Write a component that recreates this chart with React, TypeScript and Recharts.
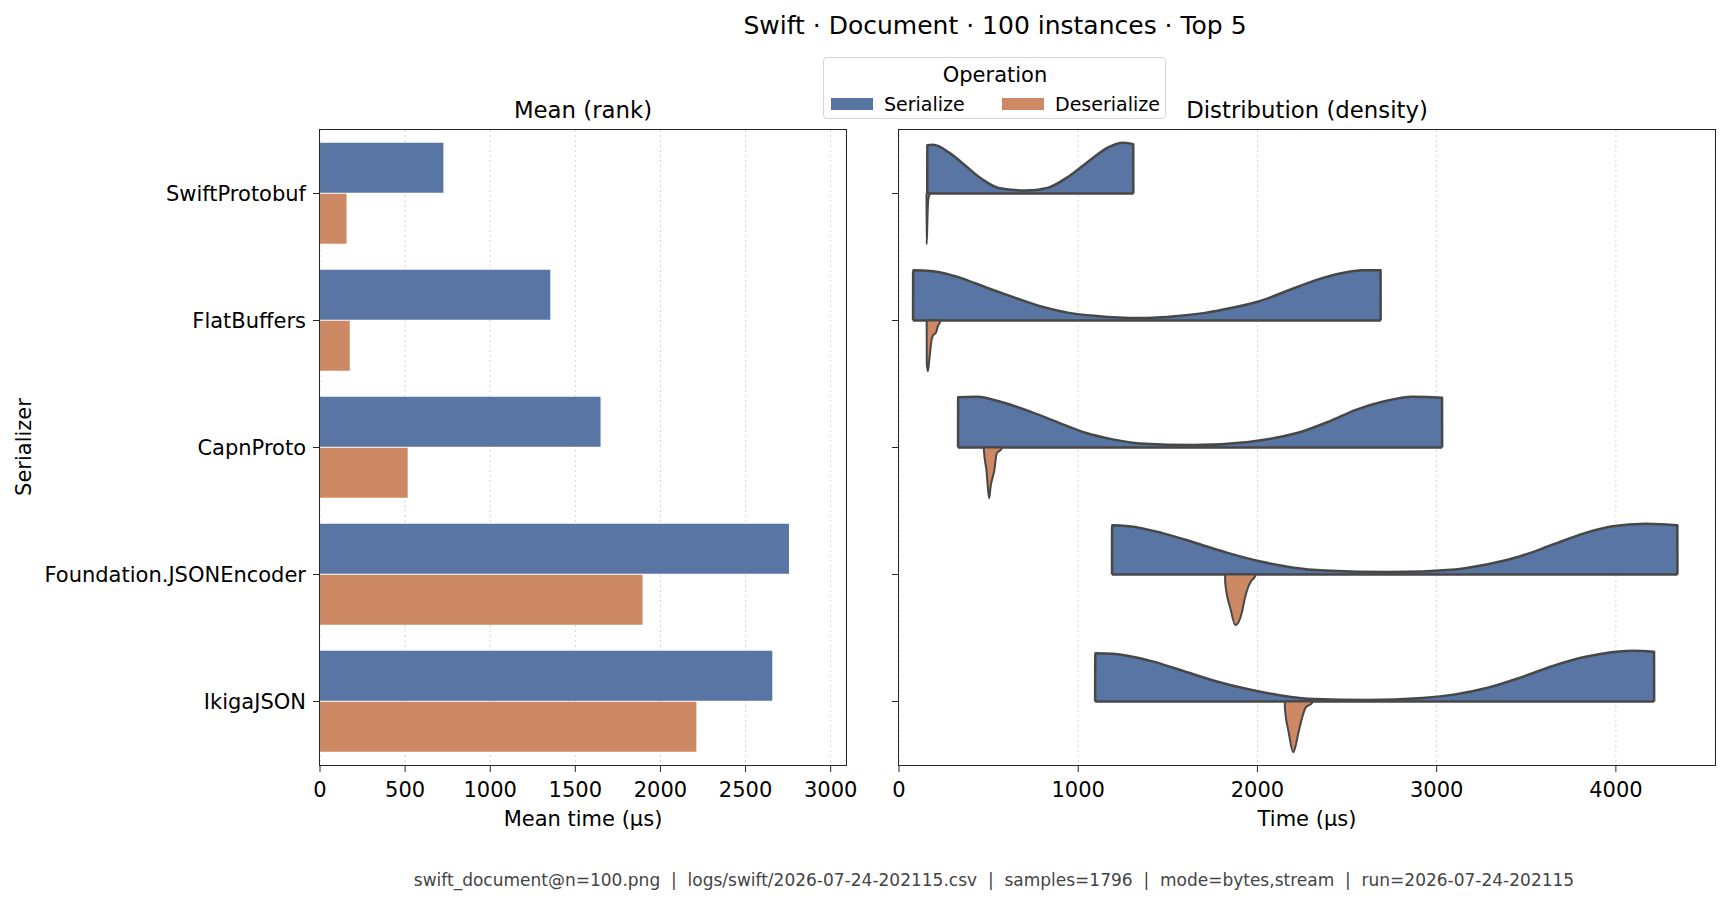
import React from 'react';
import { BarChart, Bar, XAxis, YAxis, CartesianGrid, ComposedChart, Area } from 'recharts';

const SERIALIZERS = ['SwiftProtobuf', 'FlatBuffers', 'CapnProto', 'Foundation.JSONEncoder', 'IkigaJSON'];
const MEAN_SERIALIZE = [725, 1353, 1648, 2755, 2657];
const MEAN_DESERIALIZE = [156, 175, 515, 1895, 2211];
const MEAN_TICKS = [0, 500, 1000, 1500, 2000, 2500, 3000];
const TIME_TICKS = [0, 1000, 2000, 3000, 4000];

// density outlines: [time µs, relative density (1 = widest)]
const SER_SWIFTPROTOBUF = [[158, 0.95], [190, 0.96], [282, 0.8], [373, 0.54], [464, 0.28], [555, 0.11], [707, 0.06], [828, 0.11], [949, 0.34], [1071, 0.67], [1162, 0.9], [1253, 1.0], [1307, 0.97]];
const DES_SWIFTPROTOBUF = [[154, 1.0], [157, 0.75], [160, 0.35], [164, 0.1], [170, 0.02]];
const SER_FLATBUFFERS = [[79, 0.99], [191, 0.97], [343, 0.84], [494, 0.64], [646, 0.45], [798, 0.27], [949, 0.15], [1101, 0.09], [1344, 0.05], [1556, 0.09], [1708, 0.15], [1859, 0.25], [2011, 0.38], [2163, 0.58], [2314, 0.78], [2466, 0.93], [2587, 0.99], [2687, 0.99]];
const DES_FLATBUFFERS = [[155, 0.85], [161, 1.0], [170, 0.74], [182, 0.38], [191, 0.29], [206, 0.24], [218, 0.1], [230, 0.02]];
const SER_CAPNPROTO = [[330, 0.99], [434, 1.0], [585, 0.88], [737, 0.7], [889, 0.49], [1040, 0.29], [1192, 0.16], [1344, 0.08], [1647, 0.05], [1950, 0.11], [2102, 0.19], [2254, 0.32], [2405, 0.52], [2557, 0.75], [2709, 0.91], [2860, 1.0], [3030, 0.98]];
const DES_CAPNPROTO = [[473, 0.03], [488, 0.45], [503, 1.0], [512, 0.75], [522, 0.6], [532, 0.45], [545, 0.12], [573, 0.02]];
const SER_FOUNDATION = [[1189, 0.97], [1283, 0.95], [1465, 0.82], [1647, 0.63], [1829, 0.43], [2011, 0.26], [2193, 0.14], [2375, 0.08], [2739, 0.05], [3103, 0.1], [3285, 0.2], [3467, 0.36], [3649, 0.59], [3831, 0.82], [3982, 0.95], [4164, 1.0], [4343, 0.97]];
const DES_FOUNDATION = [[1820, 0.16], [1850, 0.68], [1877, 1.0], [1914, 0.74], [1929, 0.48], [1944, 0.29], [1965, 0.13], [1987, 0.03]];
const SER_IKIGA = [[1095, 0.95], [1192, 0.94], [1404, 0.8], [1586, 0.6], [1768, 0.4], [1950, 0.24], [2132, 0.12], [2314, 0.05], [2618, 0.03], [2921, 0.07], [3103, 0.14], [3285, 0.27], [3467, 0.47], [3649, 0.7], [3831, 0.88], [4089, 1.0], [4213, 0.98]];
const DES_IKIGA = [[2153, 0.12], [2174, 0.6], [2199, 1.0], [2211, 0.9], [2229, 0.61], [2247, 0.35], [2269, 0.12], [2305, 0.03]];

const SER_VIOLINS = [SER_SWIFTPROTOBUF, SER_FLATBUFFERS, SER_CAPNPROTO, SER_FOUNDATION, SER_IKIGA];
const DES_VIOLINS = [DES_SWIFTPROTOBUF, DES_FLATBUFFERS, DES_CAPNPROTO, DES_FOUNDATION, DES_IKIGA];

const BLUE = '#5975a4';
const ORANGE = '#cc8963';
const EDGE = '#474747';
const FONT = '"DejaVu Sans", sans-serif';
const HALF = 0.4;

const barData = SERIALIZERS.map((name, i) => ({
  name,
  serialize: MEAN_SERIALIZE[i],
  deserialize: MEAN_DESERIALIZE[i],
}));

// half violin as a range area: baseline at the category row, outline offset by density
const violinData = (points: number[][], row: number, dir: number) => {
  const first = points[0][0];
  const last = points[points.length - 1][0];
  return [
    { t: first - 0.5, v: [row, row] },
    ...points.map(([t, d]) => ({ t, v: [row, row + dir * HALF * d] })),
    { t: last + 0.5, v: [row, row] },
  ];
};

const tickStyle = { fontSize: 21, fill: '#000', fontFamily: FONT };

const Text = ({ x, y, size, children, color = '#000', rotate = 0 }: any) => (
  <div
    style={{
      position: 'absolute',
      left: x,
      top: y,
      transform: `translate(-50%, -50%) rotate(${rotate}deg)`,
      fontSize: size,
      lineHeight: 1,
      whiteSpace: 'pre',
      color,
    }}
  >
    {children}
  </div>
);

const Frame = ({ x, y, w, h }: any) => (
  <div
    style={{
      position: 'absolute',
      left: x - 0.75,
      top: y - 0.75,
      width: w + 1.5,
      height: h + 1.5,
      border: '1.5px solid #262626',
      boxSizing: 'border-box',
      pointerEvents: 'none',
    }}
  />
);

export default function App() {
  return (
    <div style={{ position: 'absolute', left: 0, top: 0, width: 1730, height: 905, background: '#fff', fontFamily: FONT }}>
      <Text x={995} y={25} size={25}>Swift · Document · 100 instances · Top 5</Text>

      {/* legend */}
      <div
        style={{
          position: 'absolute',
          left: 823,
          top: 57,
          width: 343,
          height: 62,
          border: '1px solid #d6d6d6',
          borderRadius: 4,
          boxSizing: 'border-box',
          background: '#fff',
          zIndex: 2,
        }}
      >
        <Text x={171} y={17} size={21}>Operation</Text>
        <div style={{ position: 'absolute', left: 7, top: 40, width: 42, height: 12, background: BLUE }} />
        <div style={{ position: 'absolute', left: 60, top: 37, fontSize: 19, lineHeight: 1 }}>Serialize</div>
        <div style={{ position: 'absolute', left: 178, top: 40, width: 42, height: 12, background: ORANGE }} />
        <div style={{ position: 'absolute', left: 231, top: 37, fontSize: 19, lineHeight: 1 }}>Deserialize</div>
      </div>

      <Text x={583} y={110} size={22.8}>Mean (rank)</Text>
      <Text x={1307} y={110} size={22.8}>Distribution (density)</Text>
      <Text x={24} y={447} size={21}>
        <div style={{ transform: 'rotate(-90deg)' }}>Serializer</div>
      </Text>
      <Text x={583} y={819} size={21}>Mean time (µs)</Text>
      <Text x={1307} y={819} size={21}>Time (µs)</Text>

      <div style={{ position: 'absolute', left: 0, top: 0 }}>
        <BarChart
          width={870}
          height={905}
          data={barData}
          layout="vertical"
          margin={{ top: 130, right: 24, bottom: 110, left: 0 }}
          barCategoryGap="10%"
          barGap={1}
        >
          <CartesianGrid horizontal={false} strokeDasharray="2 3" stroke="#d4d4d4" />
          <XAxis
            type="number"
            domain={[0, 3090]}
            ticks={MEAN_TICKS}
            height={30}
            axisLine={false}
            tickLine={{ stroke: '#262626' }}
            tickSize={7}
            tickMargin={10}
            tick={tickStyle}
          />
          <YAxis
            type="category"
            dataKey="name"
            width={320}
            axisLine={false}
            tickLine={{ stroke: '#262626' }}
            tickSize={7}
            tickMargin={7}
            tick={tickStyle}
          />
          <Bar dataKey="serialize" fill={BLUE} isAnimationActive={false} />
          <Bar dataKey="deserialize" fill={ORANGE} isAnimationActive={false} />
        </BarChart>
      </div>

      <div style={{ position: 'absolute', left: 870, top: 0 }}>
        <ComposedChart width={860} height={905} margin={{ top: 130, right: 15, bottom: 110, left: 0 }}>
          <CartesianGrid horizontal={false} strokeDasharray="2 3" stroke="#d4d4d4" />
          <XAxis
            type="number"
            dataKey="t"
            domain={[0, 4553]}
            ticks={TIME_TICKS}
            height={30}
            axisLine={false}
            tickLine={{ stroke: '#262626' }}
            tickSize={7}
            tickMargin={10}
            tick={tickStyle}
          />
          <YAxis
            type="number"
            domain={[-0.5, 4.5]}
            reversed
            ticks={[0, 1, 2, 3, 4]}
            width={29}
            axisLine={false}
            tickLine={{ stroke: '#262626' }}
            tickSize={7}
            tickFormatter={() => ''}
            tick={tickStyle}
          />
          {SER_VIOLINS.map((pts, i) => (
            <Area
              key={`ser-${i}`}
              data={violinData(pts, i, -1)}
              dataKey="v"
              type="monotoneX"
              fill={BLUE}
              fillOpacity={1}
              stroke={EDGE}
              strokeWidth={2.5}
              strokeLinejoin="round"
              isAnimationActive={false}
            />
          ))}
          {DES_VIOLINS.map((pts, i) => (
            <Area
              key={`des-${i}`}
              data={violinData(pts, i, 1)}
              dataKey="v"
              type="monotoneX"
              fill={ORANGE}
              fillOpacity={1}
              stroke={EDGE}
              strokeWidth={2}
              strokeLinejoin="round"
              isAnimationActive={false}
            />
          ))}
        </ComposedChart>
      </div>

      <Frame x={320} y={130} w={526} h={635} />
      <Frame x={899} y={130} w={816} h={635} />

      <Text x={994} y={880} size={17} color="#444">
        swift_document@n=100.png  |  logs/swift/2026-07-24-202115.csv  |  samples=1796  |  mode=bytes,stream  |  run=2026-07-24-202115
      </Text>
    </div>
  );
}
